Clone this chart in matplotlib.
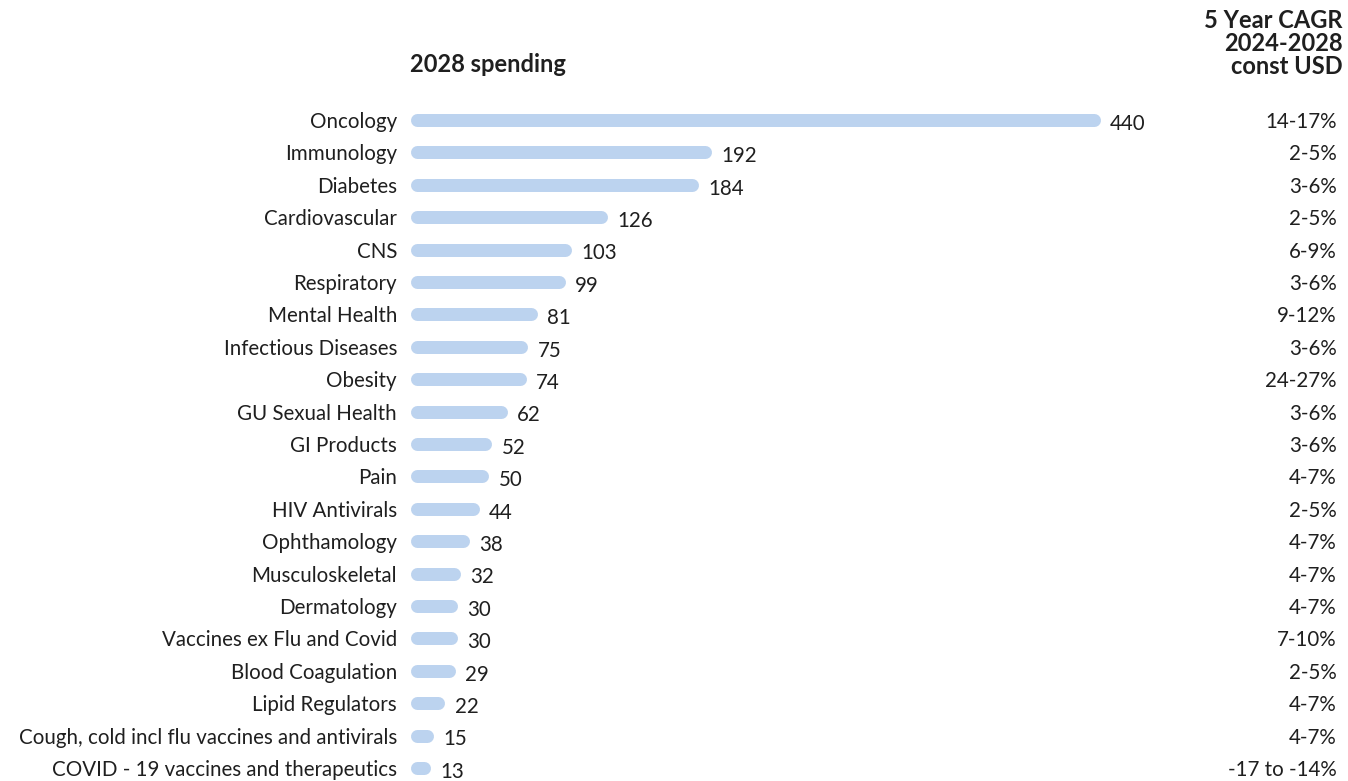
import matplotlib
matplotlib.use("Agg")
import matplotlib.pyplot as plt
import matplotlib.transforms as mtransforms

categories = ["Oncology", "Immunology", "Diabetes", "Cardiovascular", "CNS",
              "Respiratory", "Mental Health", "Infectious Diseases", "Obesity",
              "GU Sexual Health", "GI Products", "Pain", "HIV Antivirals",
              "Ophthamology", "Musculoskeletal", "Dermatology",
              "Vaccines ex Flu and Covid", "Blood Coagulation", "Lipid Regulators",
              "Cough, cold incl flu vaccines and antivirals",
              "COVID - 19 vaccines and therapeutics"]
spending = [440, 192, 184, 126, 103, 99, 81, 75, 74, 62, 52, 50, 44, 38, 32,
            30, 30, 29, 22, 15, 13]
cagr = ["14-17%", "2-5%", "3-6%", "2-5%", "6-9%", "3-6%", "9-12%", "3-6%",
        "24-27%", "3-6%", "3-6%", "4-7%", "2-5%", "4-7%", "4-7%", "4-7%",
        "7-10%", "2-5%", "4-7%", "4-7%", "-17 to -14%"]
header_lines = ["5 Year CAGR", "2024-2028", "const USD"]

plt.rcParams["font.family"] = ["Lato", "DejaVu Sans"]
TXT = "#1f1f1f"
BAR = "#bcd3ef"

W, H, DPI = 1348, 781, 100
fig = plt.figure(figsize=(W / DPI, H / DPI), dpi=DPI)

# axes: left edge at bar start, 1.568 px per unit
px_per_unit = 690 / 440
left_px, top_px = 410, 100
ax = fig.add_axes([left_px / W, 0, 1 - left_px / W, 1 - top_px / H])
ax.set_xlim(0, (W - left_px) / px_per_unit)
row_px = 32.4
ytop = -20 / row_px
ax.set_ylim(ytop + (H - top_px) / row_px, ytop)
ax.axis("off")

# rounded bars as thick lines with round caps
r = 6.5 / px_per_unit
lw_pt = 13 * 72 / DPI
ys = list(range(len(categories)))
ax.hlines(ys, [r] * len(ys), [v - r for v in spending], colors=BAR,
          linewidth=lw_pt, capstyle="round")

trans = mtransforms.blended_transform_factory(fig.transFigure, ax.transData)
for y, v, name, g in zip(ys, spending, categories, cagr):
    ax.text(v + 10 / px_per_unit, y + 0.12, f"{v}", ha="left", va="center",
            fontsize=14.8, color=TXT)
    ax.text(-13 / px_per_unit, y + 0.06, name, ha="right", va="center",
            fontsize=14.8, color=TXT)
    ax.text(1337 / W, y + 0.06, g, ha="right", va="center", fontsize=14.8,
            color=TXT, transform=trans)

fig.text(410 / W, 1 - 65 / H, "2028 spending", ha="left", va="center",
         fontsize=17, fontweight="bold", color=TXT)
for i, line in enumerate(header_lines):
    fig.text(1343 / W, 1 - (21 + 22.5 * i) / H, line, ha="right", va="center",
             fontsize=17, fontweight="bold", color=TXT)

fig.savefig("out.png", dpi=DPI)
